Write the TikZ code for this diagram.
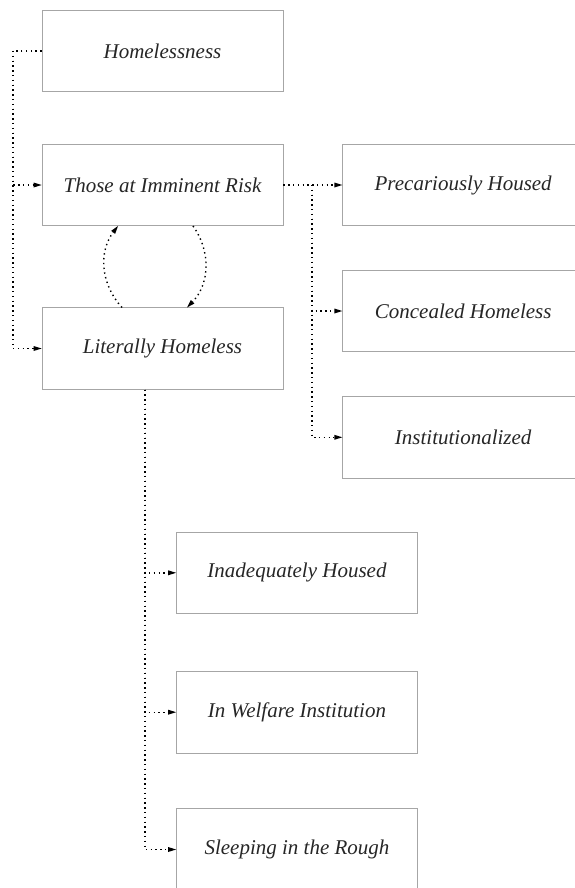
\documentclass[tikz,border=0pt]{standalone}
\usepackage{fontspec}
\setmainfont{Liberation Serif}
\usetikzlibrary{arrows.meta}
\tikzset{
  box/.style={draw=black!35, line width=0.8pt, minimum width=241pt, minimum height=81.5pt,
    inner sep=0pt, font=\fontsize{21}{25}\selectfont\itshape, text=black!85},
  conn/.style={black, line width=1.4pt, dash pattern=on 1.4pt off 3.4pt},
  arr/.style={-{Triangle[length=8pt,width=5pt,line width=0pt]}},
}
\begin{document}
\begin{tikzpicture}[x=1pt,y=-1pt]
\useasboundingbox (0,0) rectangle (574,888);
\node[box] (home)  at (162.5,51)   {Homelessness};
\node[box] (risk)  at (162.5,185)  {Those at Imminent Risk};
\node[box] (lit)   at (162.5,348.5){Literally Homeless};
\node[box] (prec)  at (463.2,185)  {Precariously Housed};
\node[box] (conc)  at (463.2,311)  {Concealed Homeless};
\node[box] (inst)  at (463.2,437.3){Institutionalized};
\node[box] (inad)  at (297,572.8)  {Inadequately Housed};
\node[box] (welf)  at (297,712.2)  {In Welfare Institution};
\node[box] (sleep) at (297,849.5)  {Sleeping in the Rough};
% left spine
\coordinate (ls) at (13,51);
\draw[conn] (home.west) -- (ls);
\draw[conn,arr] (ls) |- (risk.west);
\draw[conn,arr] (ls) |- (lit.west);
% right spine
\coordinate (rs) at (312,185);
\draw[conn,arr] (risk.east) -- (prec.west);
\draw[conn,arr] (rs) |- (conc.west);
\draw[conn,arr] (rs) |- (inst.west);
% lower spine
\coordinate (bs) at (145,389.5);
\draw[conn,arr] (bs) |- (inad.west);
\draw[conn,arr] (bs) |- (welf.west);
\draw[conn,arr] (bs) |- (sleep.west);
% loop between risk and lit
\coordinate (l1) at (122,307.5);
\coordinate (l2) at (118,226);
\coordinate (r1) at (193,226);
\coordinate (r2) at (187,307.5);
\draw[conn,arr] (l1) to[bend left=40] (l2);
\draw[conn,arr] (r1) to[bend left=40] (r2);
\end{tikzpicture}
\end{document}
